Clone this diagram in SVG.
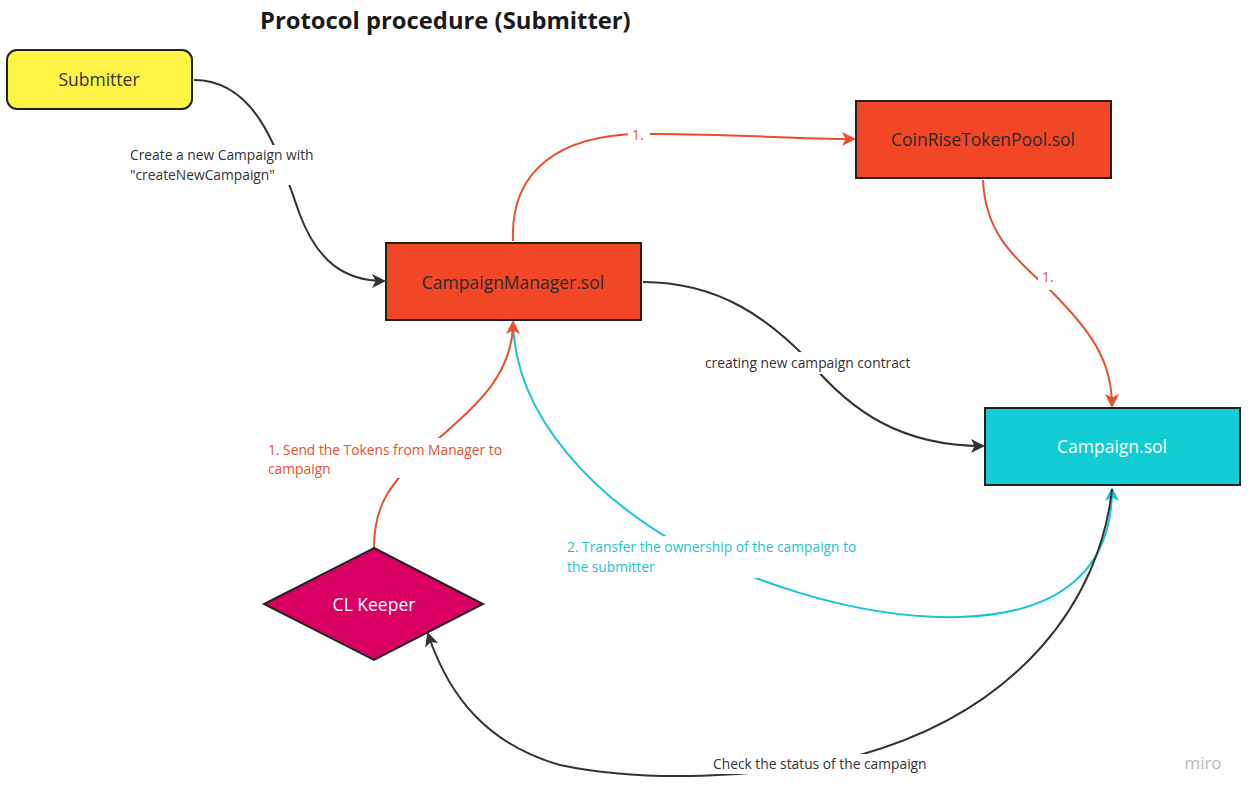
<svg xmlns="http://www.w3.org/2000/svg" width="1252" height="798" viewBox="0 0 1252 798">
<style>
.node{stroke:#222;stroke-width:2}
.nt{font-family:"Open Sans","Liberation Sans",sans-serif;font-size:17.5px;text-anchor:middle;dominant-baseline:central}
.lbl{font-family:"Open Sans","Liberation Sans",sans-serif;font-size:13.8px}
.c{fill:none;stroke-width:2}
.blk{stroke:#333}
.red{stroke:#E8502E}
.cy{stroke:#1CC5CC}
.bg{fill:#fff}
</style>
<defs>
<marker id="ab" viewBox="0 0 14 14" refX="12" refY="7" markerWidth="14" markerHeight="14" markerUnits="userSpaceOnUse" orient="auto"><path d="M0,0 L14,7 L0,14 L3.5,7 z" fill="#333"/></marker>
<marker id="ar" viewBox="0 0 14 14" refX="12" refY="7" markerWidth="14" markerHeight="14" markerUnits="userSpaceOnUse" orient="auto"><path d="M0,0 L14,7 L0,14 L3.5,7 z" fill="#E8502E"/></marker>
<marker id="ac" viewBox="0 0 14 14" refX="12" refY="7" markerWidth="14" markerHeight="14" markerUnits="userSpaceOnUse" orient="auto"><path d="M0,0 L14,7 L0,14 L3.5,7 z" fill="#1CC5CC"/></marker>
</defs>
<rect width="1252" height="798" fill="#fff"/>
<text x="260" y="29" font-family="'Open Sans','Liberation Sans',sans-serif" font-size="23.8" font-weight="bold" fill="#1a1a1a">Protocol procedure (Submitter)</text>

<g id="connectors">
<path class="c blk" d="M194,80 C260,80 280,160 300,215 C318,262 345,281 384,281" marker-end="url(#ab)"/>
<path class="c red" d="M513,241 C510,170 560,135 640,134 C720,133 790,139 854,139" marker-end="url(#ar)"/>
<path class="c red" d="M983,180 C985,230 1010,255 1050,290 C1090,330 1112,360 1112,406" marker-end="url(#ar)"/>
<path class="c blk" d="M643,282 C720,282 770,320 810,362 C850,410 900,446 983,446" marker-end="url(#ab)"/>
<path class="c cy" d="M513,322 C515,420 600,500 680,545 C740,575 850,620 960,617 C1060,614 1112,570 1112,489" marker-end="url(#ac)"/>
<path class="c red" d="M374,548 C374,505 390,485 420,455 C470,410 513,380 513,322" marker-end="url(#ar)"/>
<path class="c blk" d="M1112,489 C1100,600 1020,710 860,755 C760,780 640,782 560,765 C490,745 450,700 428,634" marker-end="url(#ab)"/>

<rect class="bg" x="126" y="145" width="194" height="40"/>
<text class="lbl" x="130" y="160" fill="#333">Create a new Campaign with</text>
<text class="lbl" x="130" y="180" fill="#333">"createNewCampaign"</text>

<rect class="bg" x="628" y="126" width="22" height="18"/>
<text class="lbl" x="632" y="140" fill="#E8502E">1.</text>

<rect class="bg" x="1038" y="266" width="22" height="24"/>
<text class="lbl" x="1042" y="282" fill="#E8502E">1.</text>

<rect class="bg" x="702" y="352" width="214" height="22"/>
<text class="lbl" x="705" y="368" fill="#333">creating new campaign contract</text>

<rect class="bg" x="264" y="438" width="246" height="40"/>
<text class="lbl" x="268" y="455" fill="#E8502E">1. Send the Tokens from Manager to</text>
<text class="lbl" x="268" y="474" fill="#E8502E">campaign</text>

<rect class="bg" x="563" y="536" width="300" height="42"/>
<text class="lbl" x="567" y="552" fill="#1CC5CC">2. Transfer the ownership of the campaign to</text>
<text class="lbl" x="567" y="572" fill="#1CC5CC">the submitter</text>

<rect class="bg" x="690" y="754" width="248" height="20"/>
<text class="lbl" x="713" y="769" fill="#333">Check the status of the campaign</text>
</g>

<g id="submitter">
<rect class="node" x="7" y="50" width="185" height="59" rx="10" fill="#FFF345"/>
<text class="nt" x="99" y="79" fill="#333">Submitter</text>
</g>
<g id="campaign-manager">
<rect class="node" x="386" y="243" width="255" height="77" fill="#F24726"/>
<text class="nt" x="513" y="282" fill="#2a2a2a">CampaignManager.sol</text>
</g>
<g id="token-pool">
<rect class="node" x="856" y="101" width="255" height="77" fill="#F24726"/>
<text class="nt" x="983" y="139" fill="#2a2a2a">CoinRiseTokenPool.sol</text>
</g>
<g id="campaign">
<rect class="node" x="985" y="408" width="255" height="77" fill="#12CDD4"/>
<text class="nt" x="1112" y="446" fill="#fff">Campaign.sol</text>
</g>
<g id="cl-keeper">
<polygon class="node" points="374,548 483,604 374,660 264,604" fill="#DA0063"/>
<text class="nt" x="374" y="604" fill="#fff">CL Keeper</text>
</g>

<text x="1203" y="769" font-family="'Open Sans','Liberation Sans',sans-serif" font-size="17" fill="#bbb" text-anchor="middle">miro</text>
</svg>
